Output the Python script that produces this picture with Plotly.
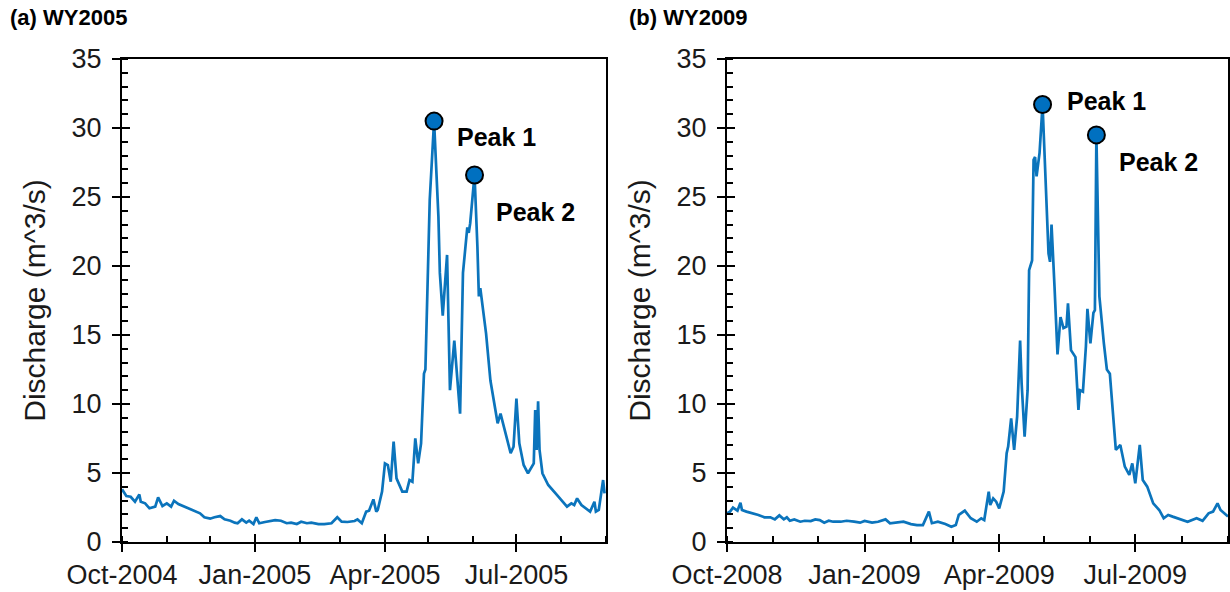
import plotly.graph_objects as go
import pandas as pd

# ---------------- data ----------------
wy2005_start = "2004-10-01"
wy2005_day = [0, 3, 6, 9, 12, 13, 16, 19, 23, 25, 28, 31, 34, 36, 39, 42, 46, 50, 54, 57,
              61, 64, 68, 71, 75, 78, 80, 83, 86, 88, 91, 93, 95, 99, 102, 106, 110, 114, 117, 121,
              124, 128, 131, 136, 140, 145, 149, 152, 156, 161, 163, 166, 169, 171, 174, 176, 177, 180, 182, 184,
              186, 188, 190, 194, 197, 199, 201, 203, 205, 207, 209, 210, 213, 216, 219, 220, 222, 225, 227, 230,
              234, 236, 239, 240, 241, 244, 246, 247, 248, 250, 252, 255, 258, 260, 262, 265, 269, 271, 273, 275,
              278, 281, 284, 285, 286, 287, 288, 289, 291, 295, 301, 308, 311, 313, 315, 318, 324, 327, 328, 330,
              333, 334]
wy2005_q = [3.82, 3.33, 3.28, 2.92, 3.45, 2.92, 2.80, 2.44, 2.56, 3.24, 2.61, 2.80, 2.56, 2.99, 2.75, 2.61, 2.44, 2.27, 2.08, 1.79,
            1.69, 1.79, 1.88, 1.64, 1.54, 1.40, 1.36, 1.64, 1.40, 1.54, 1.30, 1.79, 1.36, 1.45, 1.50, 1.59, 1.54, 1.36, 1.40, 1.30,
            1.47, 1.36, 1.40, 1.30, 1.30, 1.36, 1.79, 1.47, 1.45, 1.52, 1.64, 1.36, 2.20, 2.27, 3.09, 2.20, 2.32, 3.65, 5.70, 5.58,
            4.37, 7.27, 4.61, 3.65, 3.65, 4.49, 4.37, 7.51, 5.70, 7.15, 12.2, 12.5, 24.8, 30.5, 23.6, 19.5, 16.4, 20.8, 11.0, 14.6,
            9.3, 19.5, 22.8, 22.4, 23.1, 26.6, 21.4, 17.8, 18.4, 16.6, 15.1, 11.7, 9.8, 8.6, 9.3, 8.1, 6.43, 6.9, 10.4, 7.15,
            5.58, 4.98, 5.58, 5.70, 9.57, 6.67, 10.2, 6.67, 4.98, 4.13, 3.41, 2.56, 2.80, 2.68, 3.16, 2.68, 2.20, 2.92, 2.20, 2.32,
            4.49, 3.53]
wy2005_peak_day = [216, 244]
wy2005_peak_q = [30.5, 26.6]

wy2009_start = "2008-10-01"
wy2009_day = [0, 2, 4, 7, 9, 10, 13, 18, 21, 25, 29, 32, 35, 38, 40, 42, 45, 49, 52, 56,
              59, 62, 65, 68, 71, 76, 80, 85, 89, 92, 97, 101, 106, 109, 114, 118, 123, 127, 131, 135,
              137, 141, 146, 150, 153, 155, 159, 163, 167, 170, 172, 175, 176, 178, 180, 182, 185, 187, 188, 190,
              192, 194, 196, 197, 199, 201, 202, 204, 205, 206, 207, 209, 211, 213, 215, 216, 217, 219, 221, 223,
              225, 227, 228, 230, 233, 235, 236, 238, 240, 241, 243, 245, 246, 247, 249, 252, 254, 256, 258, 260,
              263, 266, 269, 271, 273, 276, 278, 281, 285, 289, 292, 295, 298, 303, 308, 314, 318, 322, 325, 328,
              330, 335]
wy2009_q = [2.08, 2.20, 2.49, 2.27, 2.85, 2.32, 2.20, 2.08, 1.96, 1.79, 1.79, 1.64, 1.93, 1.64, 1.79, 1.54, 1.64, 1.47, 1.54, 1.52,
            1.64, 1.59, 1.40, 1.54, 1.47, 1.47, 1.54, 1.47, 1.40, 1.52, 1.40, 1.47, 1.64, 1.36, 1.40, 1.47, 1.30, 1.23, 1.23, 2.20,
            1.36, 1.47, 1.30, 1.11, 1.23, 1.96, 2.27, 1.72, 1.47, 1.72, 1.59, 3.65, 2.68, 3.16, 2.92, 2.44, 3.65, 6.43, 6.91, 8.96,
            6.67, 9.08, 14.6, 11.5, 7.63, 11.0, 19.7, 20.4, 27.7, 27.9, 26.5, 28.2, 31.7, 26.2, 20.9, 20.3, 23.0, 18.5, 13.6, 16.3,
            15.5, 15.6, 17.3, 13.9, 13.4, 9.57, 11.0, 10.9, 14.2, 16.9, 14.4, 16.6, 16.8, 29.5, 17.8, 14.4, 12.5, 12.2, 9.57, 6.67,
            7.03, 5.46, 4.86, 5.70, 4.25, 7.03, 4.49, 4.01, 2.80, 2.32, 1.72, 1.96, 1.84, 1.64, 1.47, 1.72, 1.54, 2.08, 2.20, 2.80,
            2.32, 1.84]
wy2009_peak_day = [211, 247]
wy2009_peak_q = [31.7, 29.5]

peak_labels = ["Peak 1", "Peak 2"]
panel_titles = ["(a) WY2005", "(b) WY2009"]
x_ranges = [["2004-10-01", "2005-09-01"], ["2008-10-01", "2009-09-01"]]
y_range = [0, 35]
y_title = "Discharge (m^3/s)"

# ---------------- styling ----------------
FONT = "Arial, 'Liberation Sans', sans-serif"
LINE_COLOR = "#0B74BC"
MARKER_COLOR = "#0070C0"
TEXT_COLOR = "#1a1a1a"
W, H = 1230, 592


def to_dates(start, days):
    return pd.Timestamp(start) + pd.to_timedelta(days, unit="D")


fig = go.Figure()

series = [
    (wy2005_start, wy2005_day, wy2005_q, wy2005_peak_day, wy2005_peak_q, "x", "y", "x3", "y3"),
    (wy2009_start, wy2009_day, wy2009_q, wy2009_peak_day, wy2009_peak_q, "x2", "y2", "x4", "y4"),
]

for start, days, q, pdays, pq, xa, ya, xo, yo in series:
    fig.add_trace(go.Scatter(x=to_dates(start, days), y=q, mode="lines",
                             line=dict(color=LINE_COLOR, width=2.7),
                             xaxis=xa, yaxis=ya, hoverinfo="skip"))
    fig.add_trace(go.Scatter(x=to_dates(start, pdays), y=pq, mode="markers",
                             marker=dict(size=17, color=MARKER_COLOR,
                                         line=dict(color="black", width=2)),
                             xaxis=xa, yaxis=ya))
    # invisible trace so the overlay (inner tick) axes are drawn
    fig.add_trace(go.Scatter(x=to_dates(start, days[:1]), y=q[:1], mode="markers",
                             marker=dict(opacity=0), xaxis=xo, yaxis=yo,
                             hoverinfo="skip"))

x_domains = [[122 / W, 606 / W], [727 / W, 1228 / W]]
y_domain = [1 - 542 / H, 1 - 59 / H]

axis_common = dict(showgrid=False, zeroline=False, showline=True, linecolor="black",
                   linewidth=2, mirror=True, tickcolor="black", tickwidth=2,
                   automargin=False,
                   tickfont=dict(family=FONT, size=27, color=TEXT_COLOR))

layout = dict(width=W, height=H, margin=dict(l=0, r=0, t=0, b=0, autoexpand=False),
              paper_bgcolor="white", plot_bgcolor="white", showlegend=False,
              font=dict(family=FONT, color="black"))

for i, (xn, yn, xo, yo) in enumerate([("xaxis", "yaxis", "xaxis3", "yaxis3"),
                                       ("xaxis2", "yaxis2", "xaxis4", "yaxis4")]):
    xid = "x" if i == 0 else "x2"
    yid = "y" if i == 0 else "y2"
    layout[xn] = dict(axis_common, domain=x_domains[i], anchor=yid, type="date",
                      range=x_ranges[i], tick0=x_ranges[i][0], dtick="M3",
                      tickformat="%b-%Y", ticks="outside", ticklen=8,
                      minor=dict(ticks="inside", ticklen=6, tickwidth=2, tickcolor="black",
                                 tick0=x_ranges[i][0], dtick="M1"))
    layout[yn] = dict(axis_common, domain=y_domain, anchor=xid, range=y_range,
                      dtick=5, ticks="outside", ticklen=8, ticklabelstandoff=5,
                      minor=dict(ticks="inside", ticklen=6, tickwidth=2, tickcolor="black", dtick=1),
                      title=dict(text=y_title, font=dict(family=FONT, size=30, color=TEXT_COLOR),
                                 standoff=17))
    layout[xo] = dict(overlaying=xid, anchor=yid, type="date", range=x_ranges[i],
                      tick0=x_ranges[i][0], dtick="M3", ticks="inside", ticklen=8,
                      tickwidth=2, tickcolor="black", showticklabels=False,
                      showgrid=False, zeroline=False, showline=False, automargin=False)
    layout[yo] = dict(overlaying=yid, anchor=xid, side="left", range=y_range, dtick=5,
                      ticks="inside", ticklen=8, tickwidth=2, tickcolor="black",
                      showticklabels=False, showgrid=False, zeroline=False, showline=False,
                      automargin=False)

annotations = []
title_x = [8, 627]
for i, t in enumerate(panel_titles):
    annotations.append(dict(text="<b>%s</b>" % t, xref="paper", yref="paper",
                            x=title_x[i] / W, y=1 - 18 / H, xanchor="left", yanchor="middle",
                            showarrow=False, font=dict(family=FONT, size=22, color="black")))

peak_shifts = [[(21, -16), (19, -37)], [(22, 4), (21, -27)]]
for i, (start, pdays, pq, xr, yr) in enumerate([
        (wy2005_start, wy2005_peak_day, wy2005_peak_q, "x", "y"),
        (wy2009_start, wy2009_peak_day, wy2009_peak_q, "x2", "y2")]):
    dates = to_dates(start, pdays)
    for j, lab in enumerate(peak_labels):
        annotations.append(dict(text="<b>%s</b>" % lab, xref=xr, yref=yr,
                                x=dates[j], y=pq[j], xanchor="left", yanchor="middle",
                                xshift=peak_shifts[i][j][0], yshift=peak_shifts[i][j][1],
                                showarrow=False,
                                font=dict(family=FONT, size=25, color="black")))
layout["annotations"] = annotations

fig.update_layout(**layout)
fig.write_html("out.html")
